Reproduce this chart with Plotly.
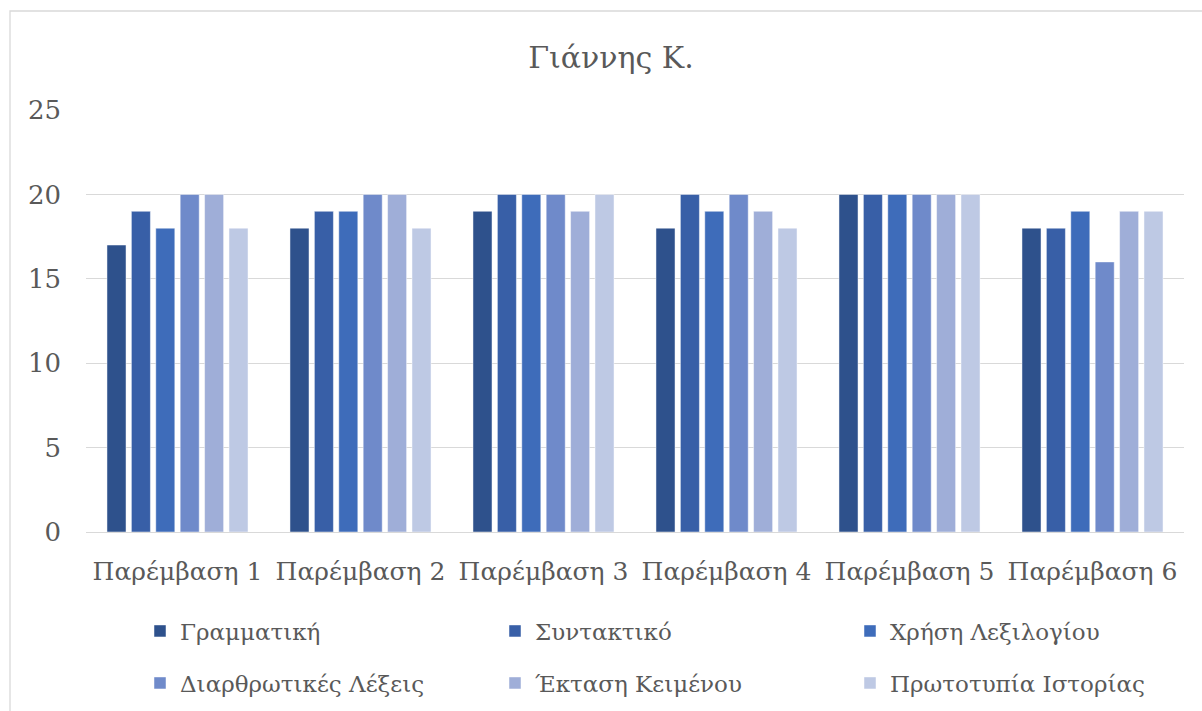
import plotly.graph_objects as go

# Chart data
categories = ["Παρέμβαση 1", "Παρέμβαση 2", "Παρέμβαση 3",
              "Παρέμβαση 4", "Παρέμβαση 5", "Παρέμβαση 6"]
series_names = ["Γραμματική", "Συντακτικό", "Χρήση Λεξιλογίου",
                "Διαρθρωτικές Λέξεις", "Έκταση Κειμένου", "Πρωτοτυπία Ιστορίας"]
grammatiki = [17, 18, 19, 18, 20, 18]
syntaktiko = [19, 19, 20, 20, 20, 18]
lexilogio = [18, 19, 20, 19, 20, 19]
diarthrotikes = [20, 20, 20, 20, 20, 16]
ektasi = [20, 20, 19, 19, 20, 19]
prototypia = [18, 18, 20, 18, 20, 19]
y_ticks = [0, 5, 10, 15, 20, 25]

series_values = [grammatiki, syntaktiko, lexilogio, diarthrotikes, ektasi, prototypia]
colors = ["#2E518C", "#385FA7", "#3E6CBA", "#6F8ACA", "#9FAED8", "#BEC9E4"]
legend_ids = ["legend", "legend", "legend", "legend2", "legend2", "legend2"]

FONT = "'DejaVu Serif', 'Liberation Serif', serif"
TEXT = "#595959"
GRID = "#D9D9D9"

fig = go.Figure()
for name, vals, col, lg in zip(series_names, series_values, colors, legend_ids):
    fig.add_trace(go.Bar(
        x=categories, y=vals, name=name,
        marker=dict(color=col, line=dict(color="rgba(255,255,255,0.6)", width=0.8)),
        legend=lg,
    ))

W, H = 1202, 711
L, R, T, B = 86, 18, 110, 179
pw, ph = W - L - R, H - T - B

def px_x(px):
    return (px - L) / pw

def px_y(py):
    return (H - B - py) / ph

legend_common = dict(
    orientation="h", xanchor="left", yanchor="middle",
    font=dict(family=FONT, size=23, color=TEXT),
    entrywidth=310, entrywidthmode="pixels",
    bgcolor="rgba(0,0,0,0)", itemclick=False, itemdoubleclick=False,
    traceorder="normal",
)

fig.update_layout(
    width=W, height=H,
    margin=dict(l=L, r=R, t=T, b=B, autoexpand=False),
    paper_bgcolor="white", plot_bgcolor="white",
    barmode="group", bargap=0.2, bargroupgap=0.22,
    title=dict(text="Γιάννης Κ.", font=dict(family=FONT, size=30, color=TEXT),
               x=px_x(611), xref="paper", xanchor="center",
               y=1 - 57 / H, yref="container", yanchor="middle"),
    font=dict(family=FONT, color=TEXT),
    showlegend=True,
    legend=dict(legend_common, x=px_x(140), y=px_y(631)),
    legend2=dict(legend_common, x=px_x(140), y=px_y(683)),
    xaxis=dict(
        showgrid=False, showline=True, linecolor=GRID, linewidth=1.3,
        tickfont=dict(family=FONT, size=25, color=TEXT),
        ticks="outside", ticklen=17, tickcolor="rgba(0,0,0,0)",
        fixedrange=True,
    ),
    yaxis=dict(
        range=[0, 25], tickvals=y_ticks,
        showgrid=True, gridcolor=GRID, gridwidth=1.3,
        zeroline=False, showline=False,
        tickfont=dict(family=FONT, size=26, color=TEXT),
        ticklabelstandoff=24, fixedrange=True,
    ),
    shapes=[dict(type="rect", xref="paper", yref="paper",
                 x0=px_x(10), x1=px_x(1215), y0=px_y(725), y1=px_y(11),
                 line=dict(color=GRID, width=1.3), fillcolor="rgba(0,0,0,0)",
                 layer="below")],
)

fig.write_html("out.html")
